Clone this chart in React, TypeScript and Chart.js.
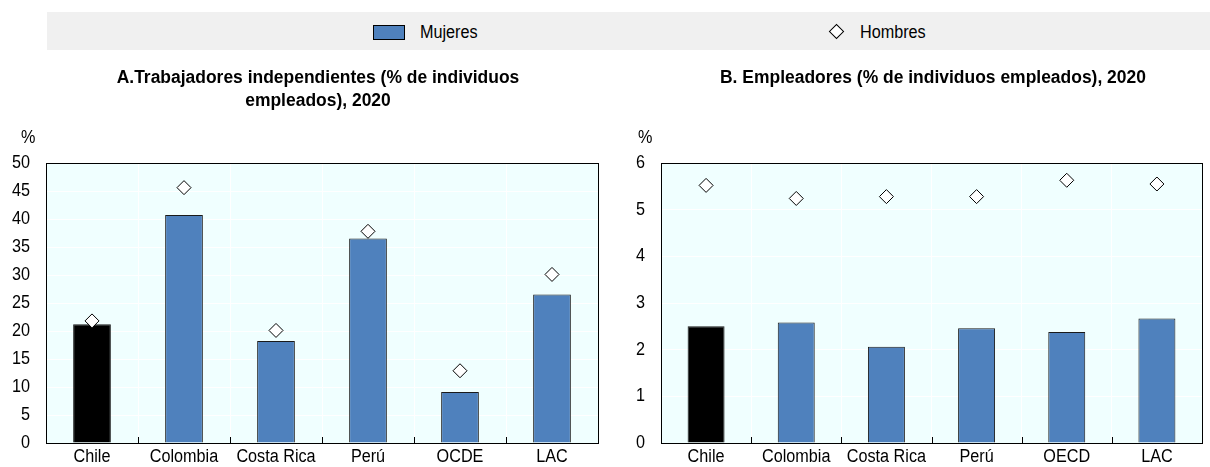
import React, { useEffect, useRef } from "react";
import { Chart, registerables } from "chart.js";

Chart.register(...registerables);

const FONT = "'Liberation Sans', Arial, sans-serif";
const SX = 0.9; // horizontal squeeze to imitate a narrow face

const categoriesA = ["Chile", "Colombia", "Costa Rica", "Perú", "OCDE", "LAC"];
const mujeresA = [21.2, 40.7, 18.2, 36.5, 9.1, 26.5];
const hombresA = [21.8, 45.6, 20.1, 37.8, 12.9, 30.1];

const categoriesB = ["Chile", "Colombia", "Costa Rica", "Perú", "OECD", "LAC"];
const mujeresB = [2.5, 2.58, 2.06, 2.46, 2.38, 2.67];
const hombresB = [5.52, 5.24, 5.28, 5.28, 5.63, 5.55];

const titleA = ["A.Trabajadores independientes (% de individuos", "empleados), 2020"];
const titleB = ["B. Empleadores (% de individuos empleados), 2020"];

const BLUE = "#4f81bd";
const BG = "#f0ffff";

const framePlugin = {
  id: "frame",
  beforeDraw(chart: any) {
    const { ctx, chartArea: a } = chart;
    ctx.save();
    ctx.fillStyle = BG;
    ctx.fillRect(a.left, a.top, a.right - a.left, a.bottom - a.top);
    ctx.restore();
  },
  afterDraw(chart: any) {
    const { ctx, chartArea: a } = chart;
    ctx.save();
    ctx.strokeStyle = "#000";
    ctx.lineWidth = 1;
    ctx.strokeRect(Math.round(a.left) + 0.5, Math.round(a.top) + 0.5, Math.round(a.right - a.left), Math.round(a.bottom - a.top));
    const xs = chart.scales.x;
    const ys = chart.scales.y;
    const n = xs.ticks.length;
    ctx.beginPath();
    for (let i = 1; i < n; i++) {
      const x = Math.round((xs.getPixelForTick(i - 1) + xs.getPixelForTick(i)) / 2) + 0.5;
      ctx.moveTo(x, a.bottom);
      ctx.lineTo(x, a.bottom - 6);
    }
    ctx.stroke();
    // tick labels, drawn squeezed
    ctx.fillStyle = "#000";
    ctx.font = `18px ${FONT}`;
    ctx.textBaseline = "middle";
    ctx.textAlign = "center";
    for (let i = 0; i < n; i++) {
      const x = xs.getPixelForTick(i);
      const label = String(chart.data.labels[i]);
      ctx.save();
      ctx.translate(x, a.bottom + 14);
      ctx.scale(SX, 1);
      ctx.fillText(label, 0, 0);
      ctx.restore();
    }
    ctx.textAlign = "right";
    ys.ticks.forEach((t: any) => {
      const y = ys.getPixelForValue(t.value);
      ctx.save();
      ctx.translate(a.left - 16, y);
      ctx.scale(SX, 1);
      ctx.fillText(String(t.value), 0, 0);
      ctx.restore();
    });
    ctx.restore();
  },
};

function makeConfig(cats: string[], women: number[], men: number[], max: number, step: number, yWidth: number, padRight: number) {
  return {
    type: "bar" as const,
    data: {
      labels: cats,
      datasets: [
        {
          type: "line" as const,
          label: "Hombres",
          data: men,
          showLine: false,
          pointStyle: "rectRot",
          pointRadius: 7,
          pointBackgroundColor: "#fff",
          pointBorderColor: "#000",
          pointBorderWidth: 1,
          order: 1,
        },
        {
          type: "bar" as const,
          label: "Mujeres",
          data: women,
          backgroundColor: cats.map((c) => (c === "Chile" ? "#000" : BLUE)),
          borderColor: "#1a1a1a",
          borderWidth: 1,
          barPercentage: 0.41,
          categoryPercentage: 1,
          order: 2,
        },
      ],
    },
    options: {
      animation: false,
      responsive: false,
      maintainAspectRatio: false,
      layout: { padding: { top: 163, right: padRight, left: 0, bottom: 0 } },
      plugins: { legend: { display: false }, title: { display: false }, tooltip: { enabled: false } },
      scales: {
        x: {
          offset: true,
          grid: { offset: true, color: "#ffffff", lineWidth: 1, drawTicks: false },
          border: { display: false },
          ticks: { display: false, autoSkip: false, maxRotation: 0 },
          afterFit(s: any) { s.height = 24; },
        },
        y: {
          min: 0,
          max,
          grid: { color: "#ffffff", lineWidth: 1, drawTicks: false },
          border: { display: false },
          ticks: { stepSize: step, display: false },
          afterFit(s: any) { s.width = yWidth; },
        },
      },
    },
    plugins: [framePlugin],
  };
}

function Panel({ cfg, width, height }: { cfg: any; width: number; height: number }) {
  const ref = useRef<HTMLCanvasElement>(null);
  useEffect(() => {
    const chart = new Chart(ref.current as HTMLCanvasElement, cfg);
    return () => chart.destroy();
  }, []);
  return <canvas ref={ref} width={width} height={height} style={{ width, height, display: "block" }} />;
}

export default function App() {
  const txt: React.CSSProperties = { position: "absolute", fontFamily: FONT, color: "#000", whiteSpace: "nowrap" };
  const squeezeLeft: React.CSSProperties = { transform: `scaleX(${SX})`, transformOrigin: "left center" };
  const squeezeCenter: React.CSSProperties = { transform: "scaleX(0.97)", transformOrigin: "center center" };
  return (
    <div style={{ position: "absolute", left: 0, top: 0, width: 1210, height: 467, background: "#fff", overflow: "hidden" }}>
      <div style={{ position: "absolute", left: 0, top: 0 }}>
        <Panel cfg={makeConfig(categoriesA, mujeresA, hombresA, 50, 5, 46, 0)} width={606} height={467} />
      </div>
      <div style={{ position: "absolute", left: 606, top: 0 }}>
        <Panel cfg={makeConfig(categoriesB, mujeresB, hombresB, 6, 1, 55, 7)} width={604} height={467} />
      </div>
      {/* legend band */}
      <div style={{ position: "absolute", left: 47, top: 12, width: 1163, height: 38, background: "#f0f0f0" }} />
      <div style={{ position: "absolute", left: 373, top: 25, width: 30, height: 13, background: BLUE, border: "1px solid #000" }} />
      <div style={{ ...txt, ...squeezeLeft, left: 420, top: 21, fontSize: 18, lineHeight: "22px" }}>Mujeres</div>
      <div style={{ position: "absolute", left: 831, top: 26, width: 9, height: 9, background: "#fff", border: "1px solid #000", transform: "rotate(45deg)" }} />
      <div style={{ ...txt, ...squeezeLeft, left: 860, top: 21, fontSize: 18, lineHeight: "22px" }}>Hombres</div>
      {/* titles */}
      <div style={{ ...txt, ...squeezeCenter, left: 18, width: 600, top: 66, fontSize: 18, fontWeight: "bold", lineHeight: "23px", textAlign: "center" }}>
        {titleA[0]}
        <br />
        {titleA[1]}
      </div>
      <div style={{ ...txt, ...squeezeCenter, left: 633, width: 600, top: 66, fontSize: 18, fontWeight: "bold", lineHeight: "23px", textAlign: "center" }}>
        {titleB[0]}
      </div>
      <div style={{ ...txt, ...squeezeLeft, left: 21, top: 126, fontSize: 18, lineHeight: "22px" }}>%</div>
      <div style={{ ...txt, ...squeezeLeft, left: 638, top: 126, fontSize: 18, lineHeight: "22px" }}>%</div>
    </div>
  );
}
